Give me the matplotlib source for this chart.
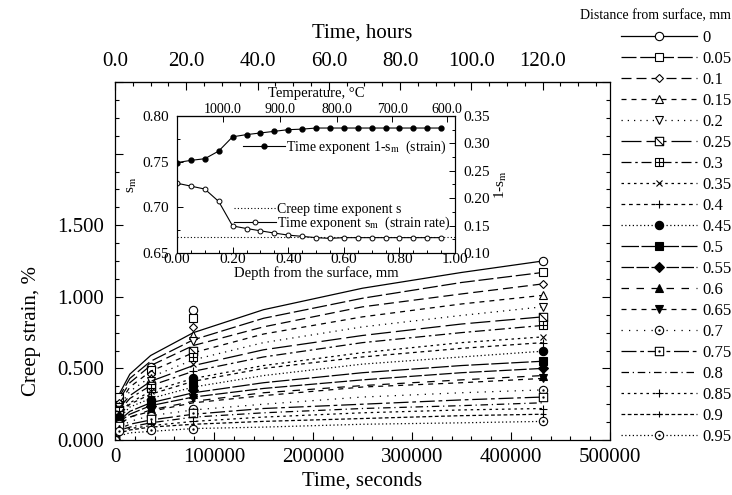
import matplotlib
matplotlib.use("Agg")
import matplotlib.pyplot as plt
from matplotlib.path import Path
from matplotlib.lines import Line2D
from matplotlib.ticker import MultipleLocator, FixedLocator, FuncFormatter, FormatStrFormatter

plt.rcParams["font.family"] = ["Liberation Serif", "DejaVu Serif"]
plt.rcParams["mathtext.fontset"] = "stix"

# ---- data ----
depth_labels = ["0", "0.05", "0.1", "0.15", "0.2", "0.25", "0.3", "0.35", "0.4", "0.45",
                "0.5", "0.55", "0.6", "0.65", "0.7", "0.75", "0.8", "0.85", "0.9", "0.95"]

# fitted curves (strain %, one row per depth)
curve_times = [0, 1000, 5000, 15000, 36000, 79200, 150000, 250000, 350000, 432000]
curve_strain = [
    [0, 0.20, 0.33, 0.46, 0.59, 0.75, 0.91, 1.06, 1.17, 1.25],
    [0, 0.19, 0.31, 0.43, 0.55, 0.70, 0.85, 0.99, 1.10, 1.17],
    [0, 0.18, 0.29, 0.40, 0.52, 0.66, 0.79, 0.93, 1.02, 1.09],
    [0, 0.16, 0.26, 0.37, 0.48, 0.61, 0.74, 0.86, 0.95, 1.01],
    [0, 0.15, 0.24, 0.34, 0.44, 0.56, 0.68, 0.79, 0.87, 0.93],
    [0, 0.14, 0.23, 0.31, 0.41, 0.52, 0.63, 0.73, 0.81, 0.86],
    [0, 0.13, 0.21, 0.29, 0.38, 0.48, 0.58, 0.68, 0.75, 0.80],
    [0, 0.12, 0.19, 0.26, 0.34, 0.43, 0.52, 0.61, 0.68, 0.72],
    [0, 0.11, 0.18, 0.25, 0.32, 0.41, 0.50, 0.58, 0.64, 0.68],
    [0, 0.10, 0.16, 0.23, 0.29, 0.37, 0.45, 0.53, 0.58, 0.62],
    [0, 0.09, 0.14, 0.20, 0.26, 0.33, 0.40, 0.47, 0.52, 0.55],
    [0, 0.08, 0.13, 0.18, 0.24, 0.30, 0.36, 0.42, 0.47, 0.50],
    [0, 0.07, 0.12, 0.16, 0.21, 0.27, 0.33, 0.38, 0.42, 0.45],
    [0, 0.07, 0.11, 0.16, 0.20, 0.26, 0.31, 0.37, 0.40, 0.43],
    [0, 0.06, 0.09, 0.13, 0.17, 0.21, 0.25, 0.30, 0.33, 0.35],
    [0, 0.05, 0.08, 0.11, 0.14, 0.18, 0.22, 0.25, 0.28, 0.30],
    [0, 0.04, 0.07, 0.09, 0.12, 0.16, 0.19, 0.22, 0.24, 0.26],
    [0, 0.04, 0.06, 0.08, 0.10, 0.13, 0.16, 0.19, 0.21, 0.22],
    [0, 0.03, 0.05, 0.07, 0.09, 0.11, 0.13, 0.15, 0.17, 0.18],
    [0, 0.02, 0.03, 0.05, 0.06, 0.08, 0.09, 0.11, 0.12, 0.13],
]

# measured points
test_times = [0, 3600, 36000, 79200, 432000]
strain_1h = [0.27, 0.30, 0.26, 0.24, 0.23, 0.21, 0.20, 0.19, 0.18, 0.16,
             0.15, 0.14, 0.13, 0.12, 0.11, 0.10, 0.09, 0.08, 0.07, 0.06]
strain_10h = [0.51, 0.49, 0.46, 0.43, 0.41, 0.38, 0.36, 0.34, 0.31, 0.28,
              0.26, 0.24, 0.22, 0.20, 0.17, 0.15, 0.13, 0.11, 0.09, 0.07]
strain_22h = [0.91, 0.85, 0.79, 0.73, 0.69, 0.62, 0.58, 0.53, 0.48, 0.43,
              0.39, 0.35, 0.32, 0.29, 0.22, 0.19, 0.16, 0.13, 0.10, 0.08]
strain_120h = [1.25, 1.17, 1.09, 1.01, 0.93, 0.86, 0.80, 0.72, 0.68, 0.62,
               0.55, 0.50, 0.45, 0.43, 0.35, 0.30, 0.26, 0.22, 0.18, 0.13]

# inset
inset_depth = [0.00, 0.05, 0.10, 0.15, 0.20, 0.25, 0.30, 0.35, 0.40, 0.45,
               0.50, 0.55, 0.60, 0.65, 0.70, 0.75, 0.80, 0.85, 0.90, 0.95]
s_m = [0.7264, 0.7232, 0.7200, 0.7064, 0.6796, 0.6768, 0.6743, 0.6718, 0.6696, 0.6682,
       0.6668, 0.6660, 0.6668, 0.6668, 0.6668, 0.6668, 0.6668, 0.6668, 0.6668, 0.6668]
one_minus_s_m = [0.265, 0.269, 0.272, 0.286, 0.312, 0.316, 0.319, 0.322, 0.325, 0.326,
                 0.328, 0.328, 0.328, 0.328, 0.328, 0.328, 0.328, 0.328, 0.328, 0.328]
creep_s = 0.667
temp_labels = ["1000.0", "900.0", "800.0", "700.0", "600.0"]
temp_depths = [0.165, 0.37, 0.575, 0.775, 0.97]
hours_ticks = [0, 20, 40, 60, 80, 100, 120]


# ---- custom markers ----
M, L, C = Path.MOVETO, Path.LINETO, Path.CLOSEPOLY
sq_v = [(-1, -1), (1, -1), (1, 1), (-1, 1), (-1, -1)]
sq_c = [M, L, L, L, C]
square_slash = Path(sq_v + [(-1, 1), (1, -1)], sq_c + [M, L])
square_plus = Path(sq_v + [(0, -1), (0, 1), (-1, 0), (1, 0)], sq_c + [M, L, M, L])
circle_dot = Path.make_compound_path(Path.unit_circle(), Path.circle((0, 0), 0.15))
square_dot = Path.make_compound_path(Path(sq_v, sq_c), Path.circle((0, 0), 0.15))

W = "white"
K = "black"
styles = [
    ("-", "o", W, 6),
    ((0, (12, 3)), "s", W, 6),
    ((0, (8, 4)), "D", W, 4.5),
    ((0, (4, 4)), "^", W, 6),
    ((0, (1, 4)), "v", W, 6),
    ((0, (16, 4)), square_slash, W, 6),
    ((0, (8, 3, 2, 3)), square_plus, W, 6),
    ((0, (2, 3)), "x", W, 5),
    ((0, (3, 3)), "+", W, 6),
    ((0, (1, 2)), "o", K, 6),
    ((0, (14, 2)), "s", K, 6),
    ((0, (10, 2)), "D", K, 5),
    ((0, (6, 6)), "^", K, 6),
    ((0, (4, 4)), "v", K, 6),
    ((0, (1, 5)), circle_dot, W, 6),
    ((0, (12, 3, 3, 3)), square_dot, W, 6),
    ((0, (6, 3, 1, 3)), None, W, 6),
    ((0, (2, 3)), "+", W, 6),
    ((0, (3, 2)), "+", W, 4.5),
    ((0, (1, 2)), circle_dot, W, 6),
]

fig = plt.figure(figsize=(7.32, 4.95), dpi=100)
ax = fig.add_axes([0.1571, 0.1111, 0.6762, 0.7232])

handles = []
for i, (ls, mk, fc, ms) in enumerate(styles):
    ax.plot(curve_times, curve_strain[i], color=K, lw=0.9, ls=ls)
    pts = [0, strain_1h[i], strain_10h[i], strain_22h[i], strain_120h[i]]
    if mk is not None:
        ax.plot(test_times, pts, ls="none", marker=mk, ms=ms, mfc=fc, mec=K, mew=0.8)
    handles.append(Line2D([], [], color=K, lw=0.9, ls=ls, marker=mk, ms=ms,
                          mfc=fc, mec=K, mew=0.8))

ax.set_xlim(0, 500000)
ax.set_ylim(0, 2.5)
ax.xaxis.set_major_locator(MultipleLocator(100000))
ax.xaxis.set_minor_locator(MultipleLocator(20000))
ax.xaxis.set_major_formatter(FuncFormatter(lambda v, p: f"{int(v)}"))
ax.yaxis.set_major_locator(MultipleLocator(0.5))
ax.yaxis.set_minor_locator(MultipleLocator(0.125))
ax.yaxis.set_major_formatter(FuncFormatter(lambda v, p: f"{v:.3f}" if v <= 1.5001 else ""))
ax.tick_params(which="both", direction="in", right=True, top=False, labelsize=15)
ax.tick_params(which="major", length=6, width=0.8)
ax.tick_params(which="minor", length=3, width=0.8)
ax.tick_params(axis="y", pad=8)
ax.tick_params(axis="x", pad=6)
for s in ax.spines.values():
    s.set_linewidth(0.9)
ax.set_xlabel("Time, seconds", fontsize=15, labelpad=3)
ax.set_ylabel("Creep strain, %", fontsize=15)
ax.yaxis.set_label_coords(-0.15, 0.305)

top = ax.secondary_xaxis("top", functions=(lambda s: s / 3600.0, lambda h: h * 3600.0))
top.set_xticks(hours_ticks)
top.xaxis.set_minor_locator(MultipleLocator(5))
top.xaxis.set_major_formatter(FormatStrFormatter("%.1f"))
top.tick_params(which="both", direction="in", labelsize=15, pad=8)
top.tick_params(which="major", length=6, width=0.8)
top.tick_params(which="minor", length=3, width=0.8)
top.set_xlabel("Time, hours", fontsize=15, labelpad=10)

fig.legend(handles, depth_labels, loc="upper left", bbox_to_anchor=(0.848, 0.94),
           frameon=False, fontsize=12, handlelength=4.6, handletextpad=0.3,
           labelspacing=0.3, borderpad=0, borderaxespad=0, numpoints=1)
fig.text(0.998, 0.968, "Distance from surface, mm", fontsize=10, ha="right", va="center")

# ---- inset ----
axin = fig.add_axes([0.2418, 0.4889, 0.3798, 0.2768])
axin.set_facecolor(W)
axin.plot([0, 1.0], [creep_s, creep_s], color=K, lw=0.8, ls=(0, (1, 2)),
          label="Creep time exponent s")
axin.plot(inset_depth, s_m, color=K, lw=0.8, marker="o", ms=3.5, mfc=W, mec=K, mew=0.7,
          label=r"Time exponent s$_\mathrm{m}$  (strain rate)")
axin.set_xlim(0, 1.0)
axin.set_ylim(0.65, 0.80)
axin.xaxis.set_major_locator(MultipleLocator(0.2))
axin.xaxis.set_minor_locator(MultipleLocator(0.05))
axin.xaxis.set_major_formatter(FormatStrFormatter("%.2f"))
axin.yaxis.set_major_locator(MultipleLocator(0.05))
axin.yaxis.set_minor_locator(MultipleLocator(0.025))
axin.yaxis.set_major_formatter(FormatStrFormatter("%.2f"))
axin.tick_params(which="both", direction="in", labelsize=11, top=False)
axin.tick_params(which="major", length=4, width=0.7)
axin.tick_params(which="minor", length=2, width=0.7)
axin.tick_params(axis="x", pad=0)
axin.tick_params(axis="y", pad=6)
axin.set_xlabel("Depth from the surface, mm", fontsize=10.5, labelpad=0.5)
axin.set_ylabel(r"s$_\mathrm{m}$", fontsize=11, labelpad=2)
axin.legend(loc="upper right", bbox_to_anchor=(1.01, 0.415), frameon=False, fontsize=10,
            handlelength=3, handletextpad=0.1, labelspacing=-0.1, borderpad=0)

ax2 = axin.twinx()
ax2.plot(inset_depth, one_minus_s_m, color=K, lw=0.8, marker="o", ms=3.5, mfc=K, mec=K,
         label=r"Time exponent 1-s$_\mathrm{m}$  (strain)")
ax2.set_ylim(0.10, 0.35)
ax2.yaxis.set_major_locator(MultipleLocator(0.05))
ax2.yaxis.set_minor_locator(MultipleLocator(0.025))
ax2.yaxis.set_major_formatter(FormatStrFormatter("%.2f"))
ax2.tick_params(which="both", direction="in", labelsize=11, pad=6)
ax2.tick_params(which="major", length=4, width=0.7)
ax2.tick_params(which="minor", length=2, width=0.7)
ax2.set_ylabel(r"1-s$_\mathrm{m}$", fontsize=11, labelpad=2)
ax2.legend(loc="center right", bbox_to_anchor=(0.995, 0.77), frameon=False, fontsize=10,
           handlelength=3, handletextpad=0.1, borderpad=0)

tin = axin.secondary_xaxis("top")
tin.xaxis.set_major_locator(FixedLocator(temp_depths))
tin.set_xticklabels(temp_labels)
tin.tick_params(direction="in", labelsize=10, pad=0, length=4, width=0.7)
tin.set_xlabel("Temperature, °C", fontsize=10.5, labelpad=4)

fig.savefig("out.png", dpi=100)
